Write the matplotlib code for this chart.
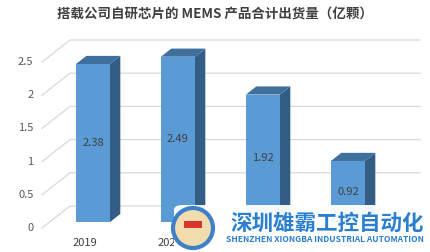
import matplotlib
matplotlib.use('Agg')
import matplotlib.pyplot as plt
from matplotlib.patches import Polygon, Ellipse, FancyBboxPatch, Rectangle

plt.rcParams['font.family'] = ['Noto Sans CJK SC', 'DejaVu Sans']

# data
years = ['2019', '2020', '2021', '2022']
shipments = [2.38, 2.49, 1.92, 0.92]
y_ticks = [0, 0.5, 1, 1.5, 2, 2.5]
y_tick_labels = ['0', '0.5', '1', '1.5', '2', '2.5']
title = '搭载公司自研芯片的 MEMS 产品合计出货量（亿颗）'

# layout in pixels (figure is 431 x 252 at dpi 100)
W, H = 431, 252
PX = 85.0      # pixels per category
PY = 66.4      # pixels per unit
X0 = 85.4      # category 0 on the front plane
Y0 = 24.0      # value 0 on the front plane (from bottom)
DX = 28.0 / PX  # depth offset of back wall, data units
DY = 22.0 / PY
Z_FRONT, Z_BACK = 0.27, 0.64
BAR_W = 0.4

fig = plt.figure(figsize=(W / 100, H / 100), dpi=100)
ax = fig.add_axes([0, 0, 1, 1])
ax.set_xlim(-X0 / PX, (W - X0) / PX)
ax.set_ylim(-Y0 / PY, (H - Y0) / PY)
ax.axis('off')


def proj(x, v, z):
    return (x + z * DX, v + z * DY)


x_left = (42 - X0) / PX
x_right = (392 - X0) / PX
grid_col = '#d9d9d9'

# gridlines: diagonal on the left + horizontal on the back wall
for v, lab in zip(y_ticks, y_tick_labels):
    a = proj(x_left, v, 0)
    b = proj(x_left, v, 1)
    c = proj(x_right, v, 1)
    ax.plot([a[0], b[0], c[0]], [a[1], b[1], c[1]], color=grid_col, lw=0.9, zorder=1)
    ax.text(x_left - 0.1, v, lab, ha='right', va='center', fontsize=8, color='#595959')

# bars
front_col = '#5b9bd5'
top_col = '#3f6f9c'
side_col = '#335d85'
for i, v in enumerate(shipments):
    l, r = i - BAR_W / 2, i + BAR_W / 2
    front = [proj(l, 0, Z_FRONT), proj(r, 0, Z_FRONT), proj(r, v, Z_FRONT), proj(l, v, Z_FRONT)]
    top = [proj(l, v, Z_FRONT), proj(l, v, Z_BACK), proj(r, v, Z_BACK), proj(r, v, Z_FRONT)]
    side = [proj(r, 0, Z_FRONT), proj(r, 0, Z_BACK), proj(r, v, Z_BACK), proj(r, v, Z_FRONT)]
    ax.add_patch(Polygon(side, closed=True, facecolor=side_col, edgecolor='none', zorder=3))
    ax.add_patch(Polygon(top, closed=True, facecolor=top_col, edgecolor='none', zorder=3))
    ax.add_patch(Polygon(front, closed=True, facecolor=front_col, edgecolor='none', zorder=4))
    cx, cy = proj(i, v / 2, Z_FRONT)
    ax.text(cx, cy, f'{v:.2f}', ha='center', va='center', fontsize=8, color='#404040', zorder=5)
    ax.text(i, -0.23, years[i], ha='center', va='center', fontsize=8, color='#404040', zorder=5)

fig.text(215 / W, 1 - 15 / H, title, ha='center', va='center', fontsize=9.7,
         fontweight='bold', color='#404040')

# watermark overlay at bottom right (covers the later year labels, as in the source)
fig.patches.append(FancyBboxPatch((174 / W, 0), (W - 174) / W, 47 / H,
                                  boxstyle='round,pad=0,rounding_size=0.02',
                                  transform=fig.transFigure, facecolor='white',
                                  edgecolor='none', alpha=0.95, zorder=10))
fig.patches.append(Ellipse((193 / W, 1 - 228 / H), 40 / W, 40 / H, transform=fig.transFigure,
                           facecolor='#f1dcae', edgecolor='#3f7fc9', lw=3, zorder=11))
fig.patches.append(Rectangle((184 / W, 1 - 228 / H), 18 / W, 7 / H, transform=fig.transFigure,
                             facecolor='#d9342b', edgecolor='none', zorder=12))
fig.text(327 / W, 1 - 223 / H, '深圳雄霸工控自动化', ha='center', va='center',
         fontsize=15.5, fontweight='bold', color='#2b7fd0', zorder=13)
fig.text(324.5 / W, 1 - 239 / H, 'SHENZHEN XIONGBA INDUSTRIAL AUTOMATION', ha='center',
         va='center', fontsize=6.1, fontweight='bold', color='#2b7fd0', zorder=13)

fig.savefig('out.png', dpi=100)
